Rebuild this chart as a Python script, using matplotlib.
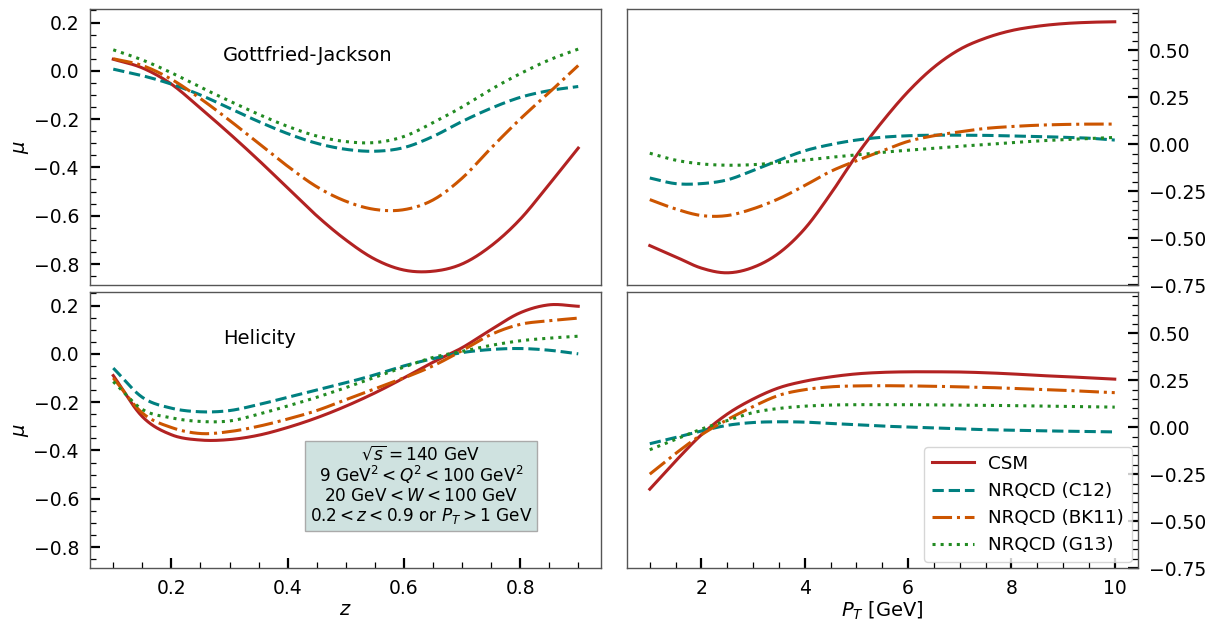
import numpy as np
import matplotlib
matplotlib.use("Agg")
import matplotlib.pyplot as plt
from matplotlib.ticker import MultipleLocator

# ---------------- data ----------------
z = [0.10, 0.15, 0.20, 0.25, 0.30, 0.35, 0.40, 0.45, 0.50, 0.55,
     0.60, 0.65, 0.70, 0.75, 0.80, 0.85, 0.90]
pt = [1.0, 1.5, 2.0, 2.5, 3.0, 3.5, 4.0, 4.5, 5.0, 5.5,
      6.0, 6.5, 7.0, 7.5, 8.0, 8.5, 9.0, 9.5, 10.0]

# Gottfried-Jackson frame, vs z
gj_z_csm = [0.048, 0.012, -0.055, -0.155, -0.26, -0.37, -0.485, -0.60, -0.70, -0.78,
            -0.825, -0.83, -0.80, -0.725, -0.615, -0.47, -0.32]
gj_z_c12 = [0.007, -0.02, -0.055, -0.10, -0.155, -0.21, -0.26, -0.30, -0.325, -0.333,
            -0.318, -0.272, -0.21, -0.155, -0.11, -0.082, -0.065]
gj_z_bk11 = [0.05, 0.022, -0.035, -0.115, -0.205, -0.30, -0.395, -0.48, -0.54, -0.574,
             -0.575, -0.535, -0.445, -0.32, -0.20, -0.09, 0.022]
gj_z_g13 = [0.087, 0.045, -0.008, -0.068, -0.125, -0.18, -0.23, -0.27, -0.293, -0.297,
            -0.272, -0.215, -0.15, -0.077, -0.012, 0.045, 0.09]

# Helicity frame, vs z
he_z_csm = [-0.09, -0.26, -0.335, -0.357, -0.355, -0.337, -0.305, -0.265, -0.217, -0.162,
            -0.10, -0.035, 0.025, 0.10, 0.17, 0.203, 0.197]
he_z_c12 = [-0.059, -0.18, -0.225, -0.24, -0.235, -0.21, -0.18, -0.15, -0.12, -0.087,
            -0.05, -0.02, 0.005, 0.018, 0.022, 0.015, 0.0]
he_z_bk11 = [-0.10, -0.245, -0.305, -0.33, -0.322, -0.30, -0.27, -0.235, -0.19, -0.145,
             -0.10, -0.05, 0.013, 0.08, 0.122, 0.137, 0.148]
he_z_g13 = [-0.115, -0.23, -0.265, -0.28, -0.278, -0.25, -0.216, -0.18, -0.14, -0.097,
            -0.055, -0.015, 0.01, 0.035, 0.054, 0.065, 0.073]

# Gottfried-Jackson frame, vs PT
gj_pt_csm = [-0.54, -0.60, -0.66, -0.685, -0.656, -0.58, -0.45, -0.265, -0.06, 0.12,
             0.28, 0.41, 0.505, 0.565, 0.605, 0.628, 0.642, 0.649, 0.652]
gj_pt_c12 = [-0.18, -0.21, -0.21, -0.19, -0.14, -0.085, -0.035, -0.002, 0.022, 0.037,
             0.045, 0.048, 0.048, 0.047, 0.044, 0.041, 0.037, 0.032, 0.022]
gj_pt_bk11 = [-0.295, -0.345, -0.38, -0.38, -0.344, -0.29, -0.22, -0.145, -0.088, -0.036,
              0.015, 0.045, 0.066, 0.084, 0.094, 0.101, 0.105, 0.107, 0.107]
gj_pt_g13 = [-0.048, -0.085, -0.105, -0.112, -0.109, -0.098, -0.085, -0.07, -0.057, -0.043,
             -0.032, -0.021, -0.011, -0.002, 0.008, 0.017, 0.024, 0.03, 0.036]

# Helicity frame, vs PT
he_pt_csm = [-0.33, -0.18, -0.04, 0.07, 0.15, 0.21, 0.245, 0.268, 0.284, 0.292,
             0.295, 0.295, 0.294, 0.29, 0.284, 0.276, 0.27, 0.263, 0.256]
he_pt_c12 = [-0.088, -0.055, -0.02, 0.01, 0.025, 0.029, 0.027, 0.02, 0.013, 0.006,
             0.001, -0.004, -0.009, -0.013, -0.016, -0.019, -0.021, -0.023, -0.025]
he_pt_bk11 = [-0.25, -0.14, -0.04, 0.04, 0.11, 0.17, 0.20, 0.215, 0.22, 0.221,
              0.22, 0.218, 0.215, 0.212, 0.207, 0.202, 0.197, 0.19, 0.184]
he_pt_g13 = [-0.12, -0.065, -0.01, 0.035, 0.078, 0.10, 0.112, 0.118, 0.12, 0.12,
             0.12, 0.119, 0.118, 0.117, 0.115, 0.113, 0.111, 0.109, 0.107]

labels = ["CSM", "NRQCD (C12)", "NRQCD (BK11)", "NRQCD (G13)"]
colors = ["#b22222", "#008080", "#cc5500", "#228b22"]
styles = ["-", "--", "-.", ":"]

# ---------------- plot ----------------
plt.rcParams["font.family"] = ["DejaVu Sans"]
fig, axes = plt.subplots(2, 2, figsize=(12.23, 6.21), dpi=100)
fig.subplots_adjust(left=0.0736, right=0.9305, top=0.9855, bottom=0.0853,
                    wspace=0.049, hspace=0.0254)


def smooth(x, y):
    x = np.asarray(x, float)
    y = np.asarray(y, float)
    xs, ys = [], []
    n = len(x)
    for i in range(n - 1):
        x0 = x[max(i - 1, 0)]; y0 = y[max(i - 1, 0)]
        x1, y1, x2, y2 = x[i], y[i], x[i + 1], y[i + 1]
        x3 = x[min(i + 2, n - 1)]; y3 = y[min(i + 2, n - 1)]
        m1 = (y2 - y0) / (x2 - x0)
        m2 = (y3 - y1) / (x3 - x1)
        t = np.linspace(0, 1, 20, endpoint=False)
        h = x2 - x1
        h00 = 2 * t**3 - 3 * t**2 + 1
        h10 = t**3 - 2 * t**2 + t
        h01 = -2 * t**3 + 3 * t**2
        h11 = t**3 - t**2
        xs.extend(x1 + t * h)
        ys.extend(h00 * y1 + h10 * h * m1 + h01 * y2 + h11 * h * m2)
    xs.append(x[-1]); ys.append(y[-1])
    return np.array(xs), np.array(ys)


panels = [
    (axes[0, 0], z, [gj_z_csm, gj_z_c12, gj_z_bk11, gj_z_g13]),
    (axes[1, 0], z, [he_z_csm, he_z_c12, he_z_bk11, he_z_g13]),
    (axes[0, 1], pt, [gj_pt_csm, gj_pt_c12, gj_pt_bk11, gj_pt_g13]),
    (axes[1, 1], pt, [he_pt_csm, he_pt_c12, he_pt_bk11, he_pt_g13]),
]
for ax, x, ys in panels:
    for y, c, ls, lab in zip(ys, colors, styles, labels):
        xx, yy = smooth(x, y)
        ax.plot(xx, yy, color=c, ls=ls, lw=2.2, label=lab)

tick_fs = 13.5
for ax in axes.flat:
    for s in ax.spines.values():
        s.set_color("#555555")
        s.set_linewidth(1.0)
    ax.tick_params(which="both", direction="in", labelsize=tick_fs, pad=8)
    ax.tick_params(which="major", length=7, width=1.6)
    ax.tick_params(which="minor", length=4, width=0.9)

# left column
for ax in axes[:, 0]:
    ax.set_xlim(0.06, 0.94)
    ax.set_ylim(-0.887, 0.256)
    ax.xaxis.set_major_locator(MultipleLocator(0.2))
    ax.xaxis.set_minor_locator(MultipleLocator(0.05))
    ax.yaxis.set_major_locator(MultipleLocator(0.2))
    ax.yaxis.set_minor_locator(MultipleLocator(0.05))
    ax.tick_params(which="both", left=True, right=False, top=False)
    ax.set_ylabel(r"$\mu$", fontsize=14, labelpad=2)

# right column
for ax in axes[:, 1]:
    ax.set_xlim(0.55, 10.45)
    ax.set_ylim(-0.75, 0.72)
    ax.xaxis.set_major_locator(MultipleLocator(2))
    ax.xaxis.set_minor_locator(MultipleLocator(0.5))
    ax.yaxis.set_major_locator(MultipleLocator(0.25))
    ax.yaxis.set_minor_locator(MultipleLocator(0.05))
    ax.tick_params(which="both", left=False, right=True, top=False,
                   labelleft=False, labelright=True)

# top row: no x ticks
for ax in axes[0, :]:
    ax.tick_params(which="both", bottom=False, labelbottom=False)

axes[1, 0].set_xlabel(r"$z$", fontsize=14, labelpad=1)
axes[1, 1].set_xlabel(r"$P_T$ [GeV]", fontsize=14, labelpad=1)

axes[0, 0].text(0.26, 0.83, "Gottfried-Jackson", transform=axes[0, 0].transAxes,
                fontsize=14, ha="left", va="center")
axes[1, 0].text(0.26, 0.83, "Helicity", transform=axes[1, 0].transAxes,
                fontsize=14, ha="left", va="center")

box_txt = ("$\\sqrt{s}=140$ GeV\n"
           "9 GeV$^2 < Q^2 < 100$ GeV$^2$\n"
           "20 GeV$ < W < $100 GeV\n"
           "$0.2 < z < 0.9$ or $P_T > 1$ GeV")
axes[1, 0].text(0.647, 0.3, box_txt, transform=axes[1, 0].transAxes,
                fontsize=12.2, ha="center", va="center", multialignment="center",
                linespacing=1.05,
                bbox=dict(boxstyle="square,pad=0.3", facecolor="#cfe2e0",
                          edgecolor="#aaaaaa", linewidth=1.0))

leg = axes[1, 1].legend(loc="lower right", fontsize=13.2, frameon=True,
                        handlelength=2.3, labelspacing=0.5, borderaxespad=0.35)
leg.get_frame().set_edgecolor("#cccccc")

fig.savefig("out.png", dpi=100)
